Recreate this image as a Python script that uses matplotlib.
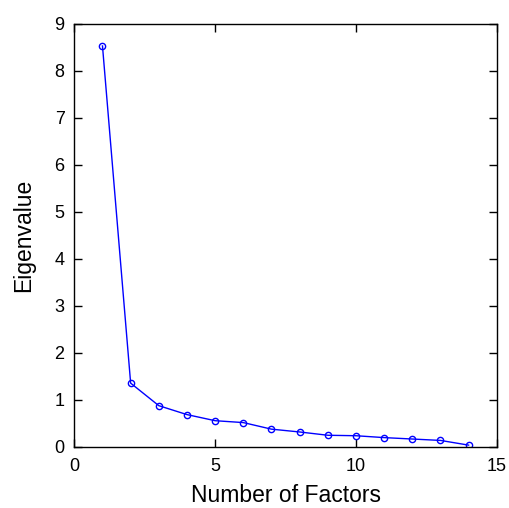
import matplotlib
matplotlib.use("Agg")
import matplotlib.pyplot as plt

# Scree plot values
factors = [1, 2, 3, 4, 5, 6, 7, 8, 9, 10, 11, 12, 13, 14]
eigenvalues = [8.53, 1.35, 0.87, 0.68, 0.55, 0.51, 0.37, 0.31, 0.24, 0.23, 0.19, 0.16, 0.13, 0.03]
x_ticks = [0, 5, 10, 15]
y_ticks = [0, 1, 2, 3, 4, 5, 6, 7, 8, 9]

plt.rcParams['font.family'] = ['Liberation Sans', 'DejaVu Sans']

fig = plt.figure(figsize=(5.09, 5.08), dpi=100)
ax = fig.add_axes([0.146, 0.121, 0.830, 0.832])

ax.plot(factors, eigenvalues, color='blue', linewidth=1.0,
        marker='o', markersize=4.5, markerfacecolor='none', markeredgecolor='blue')

ax.set_xlim(0, 15)
ax.set_ylim(0, 9)
ax.set_xticks(x_ticks)
ax.set_yticks(y_ticks)
ax.tick_params(direction='in', top=True, right=True, length=6, labelsize=13, width=1)
ax.tick_params(axis='x', pad=8)
ax.tick_params(axis='y', pad=7)
for s in ax.spines.values():
    s.set_linewidth(1.0)

ax.set_xlabel('Number of Factors', fontsize=16.5, labelpad=7)
ax.set_ylabel('Eigenvalue', fontsize=16.5, labelpad=14)

fig.savefig('out.png', dpi=100)
